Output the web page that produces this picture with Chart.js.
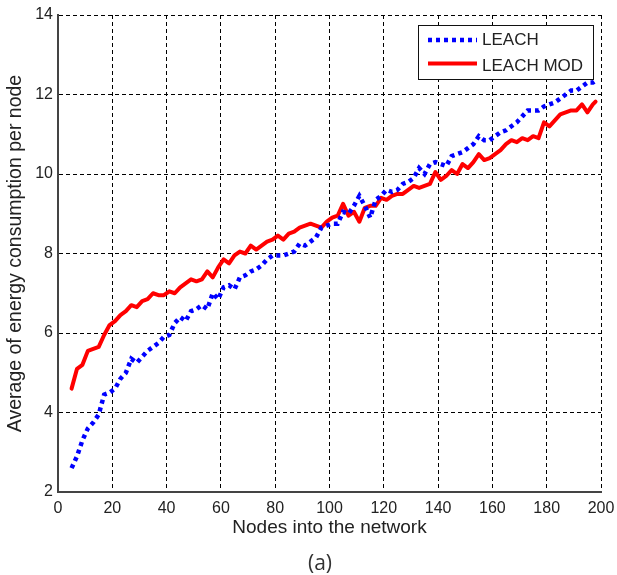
<!DOCTYPE html>
<html>
<head>
<meta charset="utf-8">
<script src="https://cdn.jsdelivr.net/npm/chart.js@4.4.1/dist/chart.umd.min.js"></script>
<style>
html,body{margin:0;padding:0;background:#fff;}
canvas{display:block;}
</style>
</head>
<body>
<canvas id="c" width="617" height="575"></canvas>
<script>
// Number of nodes (x values)
const nodes = [5,7,9,11,13,15,17,19,21,23,25,27,29,31,33,35,37,39,41,43,45,47,49,51,53,55,57,59,61,63,65,67,69,71,73,75,77,79,81,83,85,87,89,91,93,95,97,99,101,103,105,107,109,111,113,115,117,119,121,123,125,127,129,131,133,135,137,139,141,143,145,147,149,151,153,155,157,159,161,163,165,167,169,171,173,175,177,179,181,183,185,187,189,191,193,195,197,198];

const leach = [2.6,2.9,3.3,3.6,3.75,3.95,4.45,4.5,4.6,4.85,
  5.0,5.35,5.25,5.4,5.55,5.65,5.75,5.9,5.95,6.25,
  6.4,6.3,6.55,6.6,6.7,6.6,7.0,6.85,7.15,7.2,
  7.1,7.4,7.45,7.55,7.6,7.7,7.85,7.95,7.95,7.95,
  8.0,8.05,8.25,8.2,8.3,8.4,8.65,8.7,8.75,8.75,
  9.05,9.0,9.2,9.45,9.2,8.9,9.35,9.45,9.6,9.55,
  9.6,9.75,9.8,9.9,10.15,10.0,10.25,10.3,10.25,10.2,
  10.45,10.5,10.55,10.65,10.75,10.95,10.85,10.85,10.95,11.05,
  11.1,11.2,11.3,11.45,11.6,11.6,11.6,11.7,11.75,11.8,
  11.9,12.0,12.1,12.1,12.2,12.3,12.3,12.35];

const leachMod = [4.6,5.1,5.2,5.55,5.6,5.65,5.95,6.2,6.3,6.45,
  6.55,6.7,6.65,6.8,6.85,7.0,6.95,6.95,7.05,7.0,
  7.15,7.25,7.35,7.3,7.35,7.55,7.4,7.65,7.85,7.75,
  7.95,8.05,8.0,8.2,8.1,8.2,8.3,8.35,8.45,8.35,
  8.5,8.55,8.65,8.7,8.75,8.7,8.65,8.8,8.9,8.95,
  9.25,8.95,9.05,8.8,9.15,9.2,9.2,9.4,9.35,9.45,
  9.5,9.5,9.6,9.7,9.65,9.7,9.75,10.05,9.85,9.95,
  10.1,10.0,10.25,10.15,10.3,10.5,10.35,10.4,10.5,10.6,
  10.75,10.85,10.8,10.9,10.85,10.95,10.9,11.3,11.2,11.35,
  11.5,11.55,11.6,11.6,11.75,11.55,11.75,11.82];

const seriesNames = ['LEACH', 'LEACH MOD'];
const xTitle = 'Nodes into the network';
const yTitle = 'Average of energy consumption per node';
const caption = '(a)';

const FONT = '"Liberation Sans", Arial, sans-serif';
const TEXT = '#222';

const legendPlugin = {
  id: 'boxLegend',
  afterDraw(chart) {
    const ctx = chart.ctx;
    ctx.save();
    const bx = 418.5, by = 25.5, bw = 175, bh = 54;
    ctx.fillStyle = '#fff';
    ctx.fillRect(bx, by, bw, bh);
    ctx.strokeStyle = '#111';
    ctx.lineWidth = 1;
    ctx.strokeRect(bx, by, bw, bh);
    chart.data.datasets.forEach((ds, i) => {
      const y = i === 0 ? 40 : 63.5;
      ctx.save();
      ctx.strokeStyle = ds.borderColor;
      ctx.lineWidth = ds.borderWidth;
      ctx.setLineDash(ds.borderDash || []);
      ctx.lineCap = 'butt';
      ctx.beginPath();
      ctx.moveTo(428, y);
      ctx.lineTo(477, y);
      ctx.stroke();
      ctx.restore();
      ctx.fillStyle = TEXT;
      ctx.font = '17px ' + FONT;
      ctx.textBaseline = 'middle';
      ctx.textAlign = 'left';
      ctx.fillText(ds.label, 482, i === 0 ? 40.5 : 66);
    });
    ctx.fillStyle = '#333';
    ctx.font = '21px "Open Sans", sans-serif';
    ctx.textAlign = 'center';
    ctx.textBaseline = 'middle';
    ctx.fillText(caption, 320, 564);
    ctx.restore();
  }
};

const bgPlugin = {
  id: 'bg',
  beforeDraw(chart) {
    const ctx = chart.ctx;
    ctx.save();
    ctx.fillStyle = '#fff';
    ctx.fillRect(0, 0, chart.width, chart.height);
    ctx.restore();
  }
};

new Chart(document.getElementById('c'), {
  type: 'line',
  data: {
    datasets: [
      {
        label: seriesNames[0],
        data: nodes.map((x, i) => ({x: x, y: leach[i]})),
        borderColor: '#0000ff',
        borderWidth: 4.5,
        borderDash: [4, 4],
        borderCapStyle: 'butt',
        borderJoinStyle: 'miter',
        pointRadius: 0,
        tension: 0,
        fill: false
      },
      {
        label: seriesNames[1],
        data: nodes.map((x, i) => ({x: x, y: leachMod[i]})),
        borderColor: '#ff0000',
        borderWidth: 4,
        borderJoinStyle: 'round',
        borderCapStyle: 'round',
        pointRadius: 0,
        tension: 0,
        fill: false
      }
    ]
  },
  options: {
    responsive: false,
    animation: false,
    devicePixelRatio: 1,
    layout: { padding: { left: 0, top: 15, right: 16, bottom: 30 } },
    plugins: {
      legend: { display: false },
      tooltip: { enabled: false }
    },
    scales: {
      x: {
        type: 'linear',
        min: 0, max: 200,
        afterFit(scale) { scale.height = 53; scale.paddingLeft = 0; scale.paddingRight = 0; },
        ticks: { stepSize: 20, padding: 7, color: TEXT, font: { family: FONT, size: 16 }, maxRotation: 0 },
        grid: { color: '#000', lineWidth: 1, drawTicks: false },
        border: { display: true, color: '#444', width: 2, dash: [4, 3] },
        title: { display: true, text: xTitle, color: TEXT, font: { family: FONT, size: 19 }, padding: { top: 6, bottom: 6 } }
      },
      y: {
        type: 'linear',
        min: 2, max: 14,
        afterFit(scale) { scale.width = 58; scale.paddingTop = 0; scale.paddingBottom = 0; },
        ticks: { stepSize: 2, padding: 5, color: TEXT, font: { family: FONT, size: 16 } },
        grid: { color: '#000', lineWidth: 1, drawTicks: false },
        border: { display: true, color: '#444', width: 2, dash: [4, 3] },
        title: { display: true, text: yTitle, color: TEXT, font: { family: FONT, size: 19.5 }, padding: { top: 4, bottom: 4 } }
      }
    }
  },
  plugins: [bgPlugin, legendPlugin]
});
</script>
</body>
</html>
